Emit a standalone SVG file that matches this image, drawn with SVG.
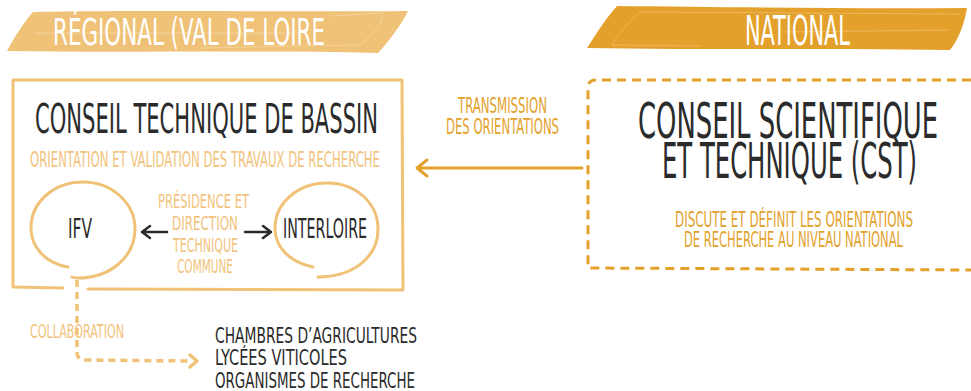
<svg xmlns="http://www.w3.org/2000/svg" width="971" height="391" viewBox="0 0 971 391">
<style>
text{font-family:"DejaVu Sans Condensed","DejaVu Sans",sans-serif;font-stretch:condensed;}
.dark{fill:#2b2b2b;}
.light{fill:#F2C37C;}
.orange{fill:#E3A12B;}
.white{fill:#ffffff;}
.ring{fill:none;stroke:#F0C277;stroke-width:3;stroke-linecap:round;}
.frame{fill:none;stroke:#F0C277;stroke-width:3;stroke-linejoin:round;stroke-linecap:round;}
.dframe{fill:none;stroke:#E3A12B;stroke-width:3;stroke-dasharray:9 6;}
.darr{fill:none;stroke:#2b2b2b;stroke-width:2.5;stroke-linecap:round;stroke-linejoin:round;}
.oarr{fill:none;stroke:#E3A12B;stroke-width:3;stroke-linecap:round;stroke-linejoin:round;}
.larr{fill:none;stroke:#F0C277;stroke-width:3.5;stroke-linecap:round;stroke-linejoin:round;}
.ldash{fill:none;stroke:#F0C277;stroke-width:3.5;stroke-dasharray:7 5;}
</style>

<g id="banner-regional">
<path d="M33,12 C150,10 300,12 408,11 C404,20 392,38 378,53 C260,50 120,53 7,51 C14,38 24,22 33,12 Z" fill="#F0C277"/>
<path d="M35,33 L300,33 M330,16 L382,13 Q385,25 360,45 L200,48" fill="none" stroke="#F5D7A4" stroke-width="0.8"/>
<text x="53" y="45" font-size="37" class="white" textLength="272" lengthAdjust="spacingAndGlyphs">RÉGIONAL (VAL DE LOIRE</text>
</g>

<g id="banner-national">
<path d="M617,6 C720,7 850,9 967,8 C965,20 960,38 950,50 C820,48 700,50 587,48 C596,34 606,18 617,6 Z" fill="#E3A12B"/>
<path d="M640,12 L960,14 M640,12 Q620,30 612,45 L700,46 M780,32 L950,30" fill="none" stroke="#EDBB66" stroke-width="0.8"/>
<text x="745" y="45" font-size="40" class="white" textLength="105" lengthAdjust="spacingAndGlyphs">NATIONAL</text>
</g>

<g id="conseil-bassin">
<path class="frame" d="M63,288 L13,287 L13,80 L402,80 L403,290 L88,289"/>
<text x="35" y="133" font-size="41" class="dark" textLength="343" lengthAdjust="spacingAndGlyphs">CONSEIL TECHNIQUE DE BASSIN</text>
<text x="30" y="167" font-size="21" class="light" textLength="350" lengthAdjust="spacingAndGlyphs">ORIENTATION ET VALIDATION DES TRAVAUX DE RECHERCHE</text>
</g>

<g id="ifv">
<path class="ring" d="M68,267 C45,263 31,247 31,228 C31,202 54,182 83,182 C112,182 135,203 135,229 C135,257 110,278 78,278 C76,278 74,278 72,277"/>
<text x="68" y="238" font-size="27" class="dark" textLength="24" lengthAdjust="spacingAndGlyphs">IFV</text>
</g>

<g id="interloire">
<path class="ring" d="M313,267 C290,262 275,248 275,228 C275,203 298,183 327,183 C356,183 378,203 378,229 C378,258 352,277 318,277"/>
<text x="283" y="238" font-size="27" class="dark" textLength="84" lengthAdjust="spacingAndGlyphs">INTERLOIRE</text>
</g>

<g id="presidence-label">
<text x="158" y="208" font-size="20" class="light" textLength="91" lengthAdjust="spacingAndGlyphs">PRÉSIDENCE ET</text>
<text x="172" y="230" font-size="20" class="light" textLength="66" lengthAdjust="spacingAndGlyphs">DIRECTION</text>
<text x="173" y="252" font-size="20" class="light" textLength="65" lengthAdjust="spacingAndGlyphs">TECHNIQUE</text>
<text x="177" y="273" font-size="20" class="light" textLength="56" lengthAdjust="spacingAndGlyphs">COMMUNE</text>
</g>

<g id="cst">
<path class="dframe" d="M971,80 L596,80 Q588,80 588,88 L588,268 L971,270"/>
<text x="638" y="138" font-size="49" class="dark" textLength="300" lengthAdjust="spacingAndGlyphs">CONSEIL SCIENTIFIQUE</text>
<text x="662" y="178" font-size="49" class="dark" textLength="255" lengthAdjust="spacingAndGlyphs">ET TECHNIQUE (CST)</text>
<text x="675" y="227" font-size="22" class="orange" textLength="238" lengthAdjust="spacingAndGlyphs">DISCUTE ET DÉFINIT LES ORIENTATIONS</text>
<text x="684" y="247" font-size="22" class="orange" textLength="219" lengthAdjust="spacingAndGlyphs">DE RECHERCHE AU NIVEAU NATIONAL</text>
</g>

<g id="partenaires">
<text x="215" y="343" font-size="22" class="dark" textLength="202" lengthAdjust="spacingAndGlyphs">CHAMBRES D’AGRICULTURES</text>
<text x="215" y="365" font-size="22" class="dark" textLength="132" lengthAdjust="spacingAndGlyphs">LYCÉES VITICOLES</text>
<text x="215" y="388" font-size="22" class="dark" textLength="200" lengthAdjust="spacingAndGlyphs">ORGANISMES DE RECHERCHE</text>
</g>

<g id="connectors">
<path class="darr" d="M167,232 L143,232 M150,226 L142,232 L150,238"/>
<path class="darr" d="M245,232 L270,232 M263,226 L271,232 L263,238"/>
<path class="oarr" d="M582,168 L418,168"/>
<path class="oarr" stroke-width="4.5" d="M427,160 L417,168 L427,176"/>
<path class="ldash" d="M77,280 L77,352 Q77,360 85,360 L190,361"/>
<path class="larr" d="M190,355 L197,361 L190,367"/>
<text x="458" y="113" font-size="21" class="orange" textLength="89" lengthAdjust="spacingAndGlyphs">TRANSMISSION</text>
<text x="446" y="134" font-size="21" class="orange" textLength="113" lengthAdjust="spacingAndGlyphs">DES ORIENTATIONS</text>
<text x="30" y="338" font-size="20" class="light" textLength="94" lengthAdjust="spacingAndGlyphs">COLLABORATION</text>
</g>
</svg>
